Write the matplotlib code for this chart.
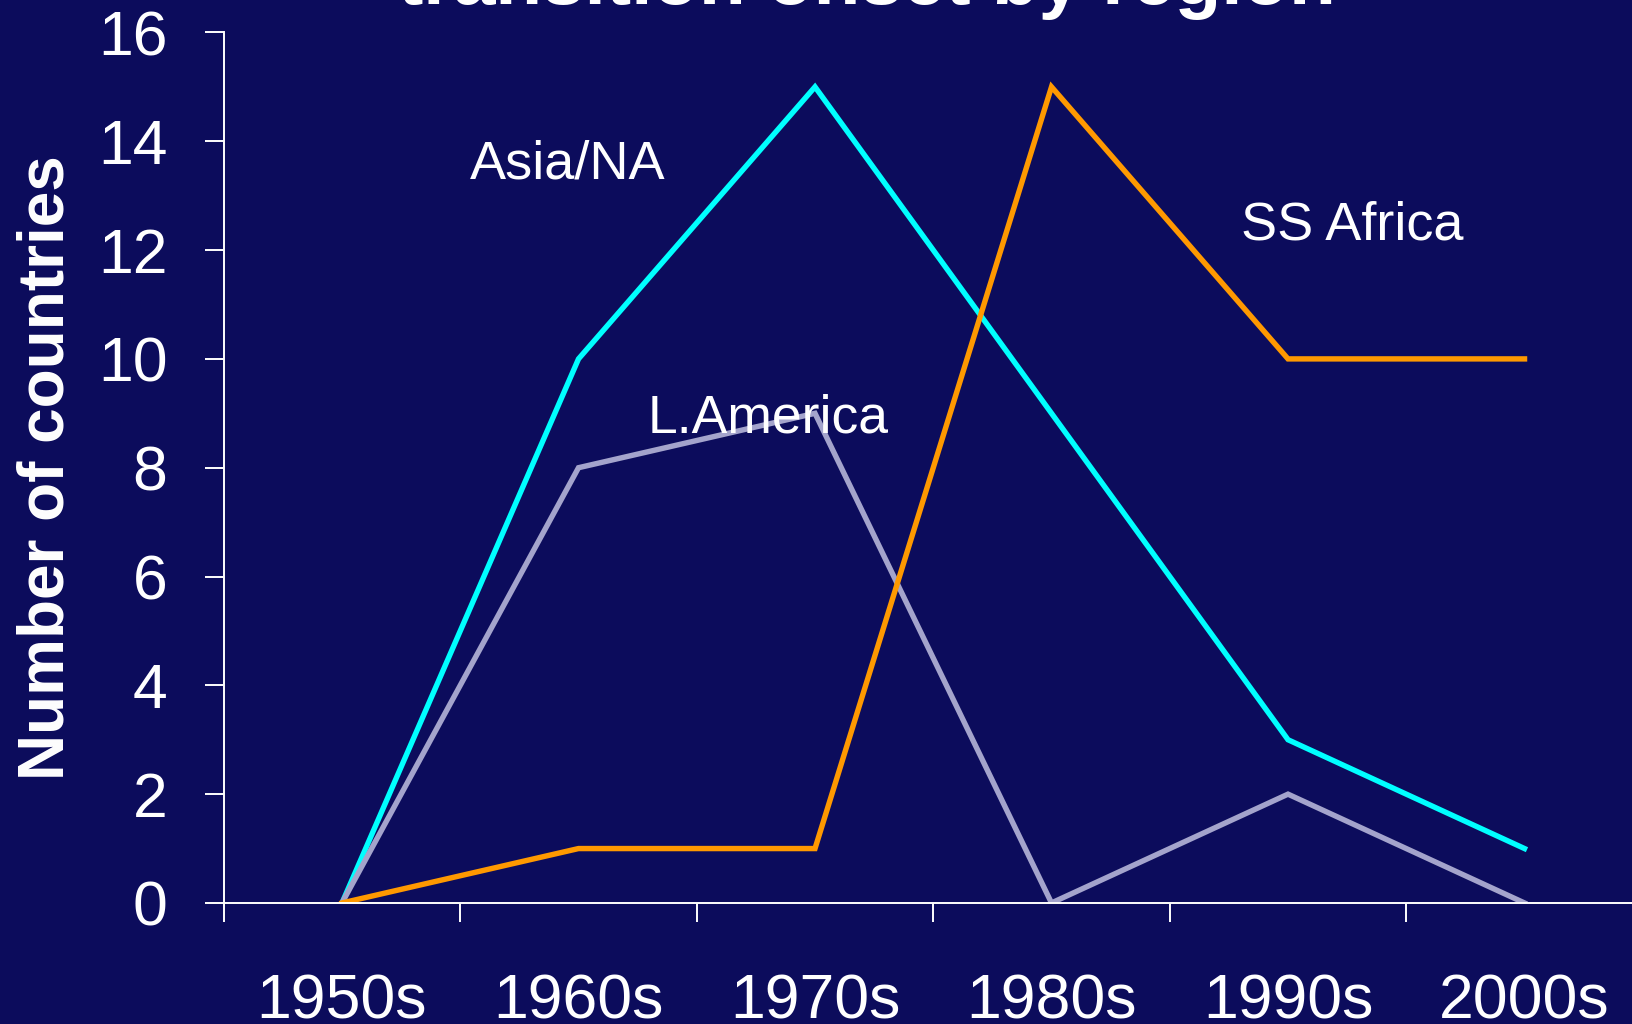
import matplotlib
matplotlib.use("Agg")
import matplotlib.pyplot as plt
from matplotlib.ticker import FixedLocator, NullFormatter

plt.rcParams['font.family'] = ['Liberation Sans', 'DejaVu Sans']

decades = ["1950s", "1960s", "1970s", "1980s", "1990s", "2000s"]
asia_na = [0, 10, 15, 9, 3, 1]
latin_america = [0, 8, 9, 0, 2, 0]
ss_africa = [0, 1, 1, 15, 10, 10]
y_ticks = [0, 2, 4, 6, 8, 10, 12, 14, 16]

bg = "#0c0c5c"
fig = plt.figure(figsize=(16.32, 10.24), dpi=100, facecolor=bg)
ax = fig.add_axes([0.1371, 0.1182, 0.8695, 0.8501], facecolor=bg)

x = list(range(len(decades)))
ax.plot(x, asia_na, color="#00ffff", lw=3.9, solid_joinstyle="miter")
ax.plot(x, latin_america, color="#a4a4cc", lw=3.9, solid_joinstyle="miter")
ax.plot(x, ss_africa, color="#ff9900", lw=3.9, solid_joinstyle="miter")

ax.set_xlim(-0.5, len(decades) - 0.5)
ax.set_ylim(0, 16)

# Category boundaries carry the tick marks; labels sit at the category centres
ax.xaxis.set_major_locator(FixedLocator([i - 0.5 for i in range(len(decades))]))
ax.xaxis.set_major_formatter(NullFormatter())
ax.set_xticks(x, minor=True)
ax.set_xticklabels(decades, minor=True)
ax.tick_params(axis="x", which="major", length=13.5, width=1.4, color="white", direction="out")
ax.tick_params(axis="x", which="minor", length=0, pad=50, labelsize=45, labelcolor="white")

ax.set_yticks(y_ticks)
ax.tick_params(axis="y", length=13.5, width=1.4, color="white", direction="out",
               pad=27, labelsize=45, labelcolor="white")

for side in ("top", "right"):
    ax.spines[side].set_visible(False)
for side in ("left", "bottom"):
    ax.spines[side].set_color("white")
    ax.spines[side].set_linewidth(1.4)

ax.set_ylabel("Number of countries", fontsize=46, fontweight="bold", color="white")
ax.yaxis.set_label_coords(-0.1035, 0.5)

ax.text(0.956, 13.58, "Asia/NA", color="white", fontsize=39, ha="center", va="center")
ax.text(1.8, 8.9, "L.America", color="white", fontsize=38.5, ha="center", va="center")
ax.text(4.27, 12.45, "SS Africa", color="white", fontsize=39, ha="center", va="center")

fig.text(0.531, 1.0 - 4 / 1024, "transition onset by region", color="white",
         fontsize=55, fontweight="bold", ha="center", va="baseline")

fig.savefig("out.png", dpi=100, facecolor=bg)
